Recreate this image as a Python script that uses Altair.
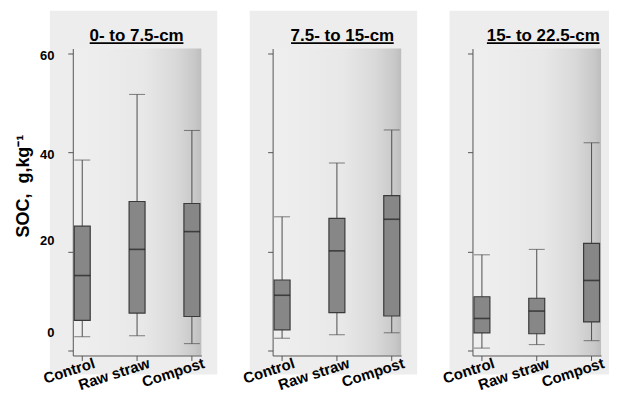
import altair as alt
import pandas as pd

# ---- data ----
panel_titles = ["0- to 7.5-cm", "7.5- to 15-cm", "15- to 22.5-cm"]
treatments = ["Control", "Raw straw", "Compost"]
whisker_low = [[2.7, 2.9, 1.3], [2.4, 3.1, 3.5], [0.4, 1.1, 1.9]]
q1 = [[6.0, 7.5, 6.8], [4.1, 7.6, 6.9], [3.5, 3.3, 5.7]]
median = [[15.1, 20.4, 24.0], [11.1, 20.1, 26.5], [6.4, 7.9, 14.1]]
q3 = [[25.1, 30.1, 29.7], [14.2, 26.7, 31.3], [10.8, 10.5, 21.6]]
whisker_high = [[38.5, 51.8, 44.5], [27.0, 37.9, 44.6], [19.3, 20.4, 42.0]]
y_ticks = [0, 20, 40, 60]
y_title = "SOC,\u00a0\u00a0g,kg\u207b\u00b9"

# ---- styling ----
W, H = 129, 308
Y_DOMAIN = [-1.1, 61.1]
FONT = "Liberation Sans"
title_dx = [-0.5, 5.5, 6.5]
title_w = [94, 103, 113]
bg_right = [145, 145, 137]

one = pd.DataFrame({"k": [0]})


def panel(i):
    df = pd.DataFrame({
        "treatment": treatments,
        "lo": whisker_low[i],
        "q1": q1[i],
        "med": median[i],
        "q3": q3[i],
        "hi": whisker_high[i],
    })
    first = i == 0
    xenc = alt.X(
        "treatment:N",
        sort=treatments,
        scale=alt.Scale(paddingInner=0.709, paddingOuter=0.027),
        axis=alt.Axis(
            title=None, labelAngle=-18, labelAlign="right", labelBaseline="top",
            labelFont=FONT, labelFontWeight="bold", labelFontSize=15,
            labelColor="black", labelOffset=10, labelPadding=-5,
            tickSize=5, tickColor="#555555", domainColor="#555555", zindex=1,
        ),
    )
    yaxis = alt.Axis(
        values=y_ticks, tickSize=5, tickColor="#555555", domainColor="#555555",
        labels=first, grid=False, zindex=1, title=None,
        labelFont=FONT, labelFontWeight="bold", labelFontSize=13, labelColor="black",
        labelPadding=14,
        labelOffset={"condition": [{"test": "datum.value == 0", "value": -18},
                                   {"test": "datum.value == 20", "value": -11}],
                     "value": 2},
    )
    yscale = alt.Scale(domain=Y_DOMAIN, nice=False, zero=False)

    def Y(field):
        return alt.Y(field, scale=yscale, axis=yaxis)

    bg = alt.Chart(one).mark_rect(color="#ededed").encode(
        x=alt.value(-23), x2=alt.value(bg_right[i]), y=alt.value(-38), y2=alt.value(H + 19)
    )
    grad = alt.Chart(one).mark_rect(
        color=alt.LinearGradient(
            gradient="linear", x1=0, x2=1, y1=0, y2=0,
            stops=[
                alt.GradientStop(color="#efefef", offset=0),
                alt.GradientStop(color="#e8e8e8", offset=0.55),
                alt.GradientStop(color="#d9d9d9", offset=0.8),
                alt.GradientStop(color="#c8c8c8", offset=0.95),
                alt.GradientStop(color="#bdbdbd", offset=1),
            ],
        )
    ).encode(x=alt.value(0), x2=alt.value(W), y=alt.value(0), y2=alt.value(H))

    base = alt.Chart(df)
    whisk = base.mark_rule(color="#4d4d4d", strokeWidth=1).encode(
        x=xenc, y=Y("lo:Q"), y2="hi:Q"
    )
    cap_lo = base.mark_tick(color="#4d4d4d", size=16, thickness=1).encode(x=xenc, y=Y("lo:Q"))
    cap_hi = base.mark_tick(color="#4d4d4d", size=16, thickness=1).encode(x=xenc, y=Y("hi:Q"))
    box = base.mark_bar(size=16, color="#878787", stroke="#3a3a3a", strokeWidth=1.2).encode(
        x=xenc, y=Y("q1:Q"), y2="q3:Q"
    )
    med = base.mark_tick(color="#1e1e1e", size=16, thickness=1.6).encode(x=xenc, y=Y("med:Q"))

    cx = W / 2 + title_dx[i]
    title = alt.Chart(one).mark_text(
        text=panel_titles[i], font=FONT, fontSize=17, fontWeight="bold", color="black",
        align="center", baseline="alphabetic",
    ).encode(x=alt.value(cx), y=alt.value(-7.5))
    underline = alt.Chart(one).mark_rule(color="black", strokeWidth=1.8).encode(
        x=alt.value(cx - title_w[i] / 2), x2=alt.value(cx + title_w[i] / 2), y=alt.value(-5.3)
    )
    layers = [bg, grad, whisk, cap_lo, cap_hi, box, med, title, underline]
    if first:
        ytitle = alt.Chart(one).mark_text(
            text=y_title, font=FONT, fontSize=18, fontWeight="bold", color="black",
            align="center", baseline="middle", angle=270,
        ).encode(x=alt.value(-49), y=alt.value(138))
        layers.append(ytitle)

    return alt.layer(*layers).properties(width=W, height=H)


chart = alt.hconcat(panel(0), panel(1), panel(2), spacing=71.5, bounds="flush").properties(
    padding={"left": 6, "top": 1, "right": 0, "bottom": 0}
).configure_view(stroke=None).configure(background="white")

chart.save("out.html", embed_options={"renderer": "svg", "actions": False})
